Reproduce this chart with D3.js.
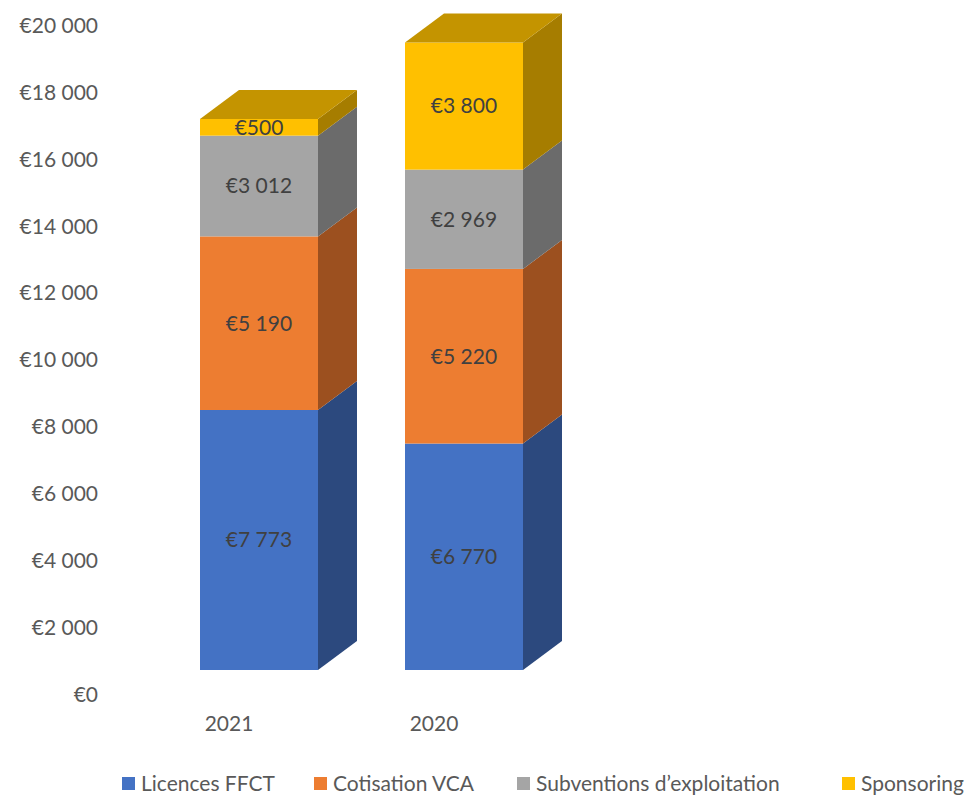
<!DOCTYPE html>
<html><head><meta charset="utf-8">
<script src="https://cdn.jsdelivr.net/npm/d3@7"></script>
<style>
html,body{margin:0;padding:0;background:#fff;}
svg text{font-family:Lato,"Open Sans",sans-serif;}
</style></head>
<body>
<svg id="chart" width="974" height="807"></svg>
<script>
const categories = ["2021", "2020"];
const seriesNames = ["Licences FFCT", "Cotisation VCA", "Subventions d\u2019exploitation", "Sponsoring"];
const licences = [7773, 6770];
const cotisation = [5190, 5220];
const subventions = [3012, 2969];
const sponsoring = [500, 3800];
const dataLabels = [["€7 773","€6 770"],["€5 190","€5 220"],["€3 012","€2 969"],["€500","€3 800"]];
const tickValues = [0,2000,4000,6000,8000,10000,12000,14000,16000,18000,20000];
const tickLabels = ["€0","€2 000","€4 000","€6 000","€8 000","€10 000","€12 000","€14 000","€16 000","€18 000","€20 000"];

const frontColors = ["#4472C4","#ED7D31","#A5A5A5","#FFC000"];
const sideColors  = ["#2C497E","#9C501F","#6B6B6B","#A67D00"];
const topColors   = ["#34599A","#BD6427","#848484","#C49400"];

const svg = d3.select("#chart");
const depthX = 39, depthY = 29;

const x = d3.scaleBand().domain(categories).range([200, 523]).paddingInner(0.4244).paddingOuter(0);
const yBar = d3.scaleLinear().domain([0, 20000]).range([670, 1]);
const yAxis = d3.scaleLinear().domain([0, 20000]).range([694, 25]);

// table
const rows = categories.map((c, i) => ({cat: c, licences: licences[i], cotisation: cotisation[i], subventions: subventions[i], sponsoring: sponsoring[i]}));
const keys = ["licences","cotisation","subventions","sponsoring"];
const stacked = d3.stack().keys(keys)(rows);

// axis
const ax = svg.append("g").attr("transform","translate(98,0)")
  .call(d3.axisLeft(yAxis).tickValues(tickValues).tickSize(0).tickPadding(0)
        .tickFormat((d,i) => tickLabels[i]));
ax.select(".domain").remove();
ax.selectAll("text").attr("font-family","Lato, 'Open Sans', sans-serif").attr("font-size",21).attr("fill","#595959").attr("dy","0.35em");

// bars
const bw = x.bandwidth();
const gBars = svg.append("g");
categories.forEach((cat, ci) => {
  const x0 = x(cat), x1 = x0 + bw;
  stacked.forEach((layer, si) => {
    const d = layer[ci];
    const yb = yBar(d[0]), yt = yBar(d[1]);
    // side face
    gBars.append("path")
      .attr("d", `M${x1},${yb}L${x1+depthX},${yb-depthY}L${x1+depthX},${yt-depthY}L${x1},${yt}Z`)
      .attr("fill", sideColors[si]);
    // front
    gBars.append("rect").attr("x", x0).attr("y", yt).attr("width", bw).attr("height", yb-yt)
      .attr("fill", frontColors[si]);
    if (si === stacked.length - 1) {
      gBars.append("path")
        .attr("d", `M${x0},${yt}L${x1},${yt}L${x1+depthX},${yt-depthY}L${x0+depthX},${yt-depthY}Z`)
        .attr("fill", topColors[si]);
    }
  });
});

// data labels
categories.forEach((cat, ci) => {
  stacked.forEach((layer, si) => {
    const d = layer[ci];
    svg.append("text")
      .attr("x", x(cat) + bw/2)
      .attr("y", (yBar(d[0]) + yBar(d[1]))/2)
      .attr("dy","0.35em")
      .attr("text-anchor","middle")
      .attr("font-size",21)
      .attr("fill","#404040")
      .text(dataLabels[si][ci]);
  });
});

// category labels
categories.forEach(cat => {
  svg.append("text")
    .attr("x", x(cat) + bw/2 - 30)
    .attr("y", 731)
    .attr("text-anchor","middle")
    .attr("font-size",21)
    .attr("fill","#595959")
    .text(cat);
});

// legend
const legendX = [122, 314, 517, 842];
const lg = svg.append("g");
seriesNames.forEach((name, i) => {
  lg.append("rect").attr("x", legendX[i]).attr("y", 777).attr("width", 13).attr("height", 13).attr("fill", frontColors[i]);
  lg.append("text").attr("x", legendX[i] + 19).attr("y", 783.5).attr("dy","0.35em")
    .attr("font-size",21).attr("fill","#595959").text(name);
});
</script>
</body></html>
